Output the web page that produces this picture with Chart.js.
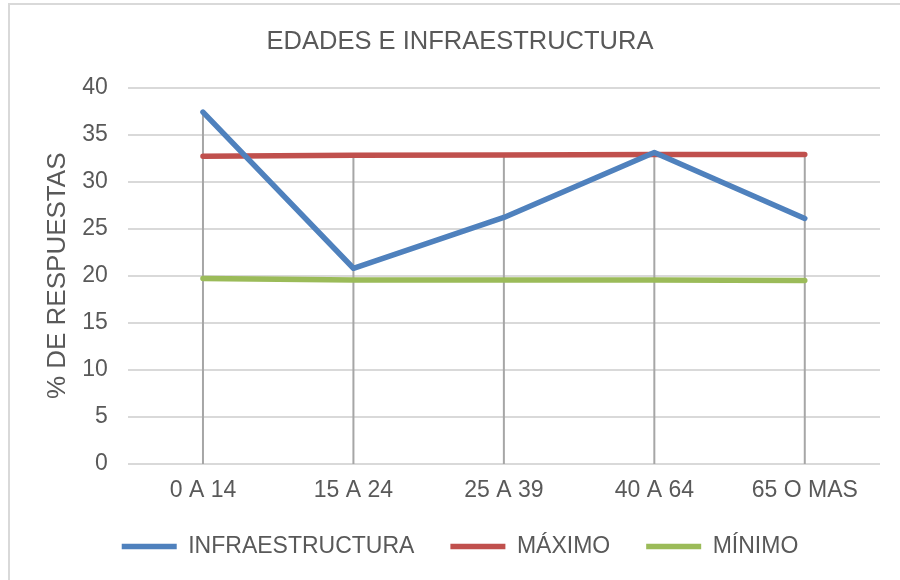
<!DOCTYPE html>
<html>
<head>
<meta charset="utf-8">
<script src="https://cdn.jsdelivr.net/npm/chart.js@4"></script>
<style>
  html, body { margin: 0; padding: 0; background: #fff; }
  #wrap { position: relative; width: 900px; height: 580px; }
  #frame { position: absolute; left: 8px; top: 3px; width: 900px; height: 590px;
           border-left: 2px solid #d9d9d9; border-top: 2px solid #d9d9d9; pointer-events: none; }
</style>
</head>
<body>
<div id="wrap">
  <canvas id="chart"></canvas>
  <div id="frame"></div>
</div>
<script>
// Data
const categories = ['0 A 14', '15 A 24', '25 A 39', '40 A 64', '65 O MAS'];
const infraestructura = [37.4, 20.8, 26.2, 33.1, 26.1];
const maximo = [32.7, 32.8, 32.85, 32.9, 32.9];
const minimo = [19.7, 19.55, 19.55, 19.55, 19.5];
const yTicks = { min: 0, max: 40, step: 5 };

const textColor = '#595959';
const fontFamily = "'Liberation Sans', Arial, sans-serif";

// Excel style drop lines: from the highest series value down to the axis
const dropLines = {
    id: 'dropLines',
    beforeDatasetsDraw(chart) {
        const { ctx, chartArea, scales: { x, y } } = chart;
        ctx.save();
        ctx.strokeStyle = '#a6a6a6';
        ctx.lineWidth = 2;
        categories.forEach((c, i) => {
            const top = Math.max(...chart.data.datasets.map(d => d.data[i]));
            const px = x.getPixelForValue(i);
            ctx.beginPath();
            ctx.moveTo(px, y.getPixelForValue(top));
            ctx.lineTo(px, chartArea.bottom);
            ctx.stroke();
        });
        ctx.restore();
    }
};

function lineSet(label, data, color) {
    return {
        label: label,
        data: data,
        borderColor: color,
        backgroundColor: color,
        borderWidth: 5.5,
        borderCapStyle: 'round',
        borderJoinStyle: 'round',
        pointRadius: 0,
        tension: 0
    };
}

new Chart(document.getElementById('chart'), {
    type: 'line',
    data: {
        labels: categories,
        datasets: [
            lineSet('INFRAESTRUCTURA', infraestructura, '#4f81bd'),
            lineSet('MÁXIMO', maximo, '#c0504d'),
            lineSet('MÍNIMO', minimo, '#9bbb59')
        ]
    },
    plugins: [dropLines],
    options: {
        responsive: true,
        maintainAspectRatio: false,
        animation: false,
        layout: { padding: { left: 40, right: 20, top: 0, bottom: 12 } },
        plugins: {
            title: {
                display: true,
                text: 'EDADES E INFRAESTRUCTURA',
                color: textColor,
                font: { family: fontFamily, size: 25.5, weight: 'normal' },
                padding: { top: 27, bottom: 30 }
            },
            legend: {
                position: 'bottom',
                labels: {
                    color: textColor,
                    font: { family: fontFamily, size: 23 },
                    usePointStyle: true,
                    pointStyle: 'line',
                    pointStyleWidth: 55,
                    boxHeight: 5,
                    padding: 36
                }
            },
            tooltip: { enabled: false }
        },
        scales: {
            x: {
                offset: true,
                grid: { display: false, drawTicks: false },
                border: { display: false },
                ticks: {
                    color: textColor,
                    font: { family: fontFamily, size: 23 },
                    padding: 13,
                    maxRotation: 0
                },
                afterFit(scale) { scale.height = 35; }
            },
            y: {
                min: yTicks.min,
                max: yTicks.max,
                ticks: {
                    stepSize: yTicks.step,
                    color: textColor,
                    font: { family: fontFamily, size: 23 },
                    padding: 20
                },
                grid: { color: '#d9d9d9', lineWidth: 2, drawTicks: false },
                border: { display: false },
                title: {
                    display: true,
                    text: '% DE RESPUESTAS',
                    color: textColor,
                    font: { family: fontFamily, size: 26 },
                    padding: { top: 2, bottom: 4 }
                },
                afterFit(scale) { scale.width = 87.75; }
            }
        }
    }
});
</script>
</body>
</html>
